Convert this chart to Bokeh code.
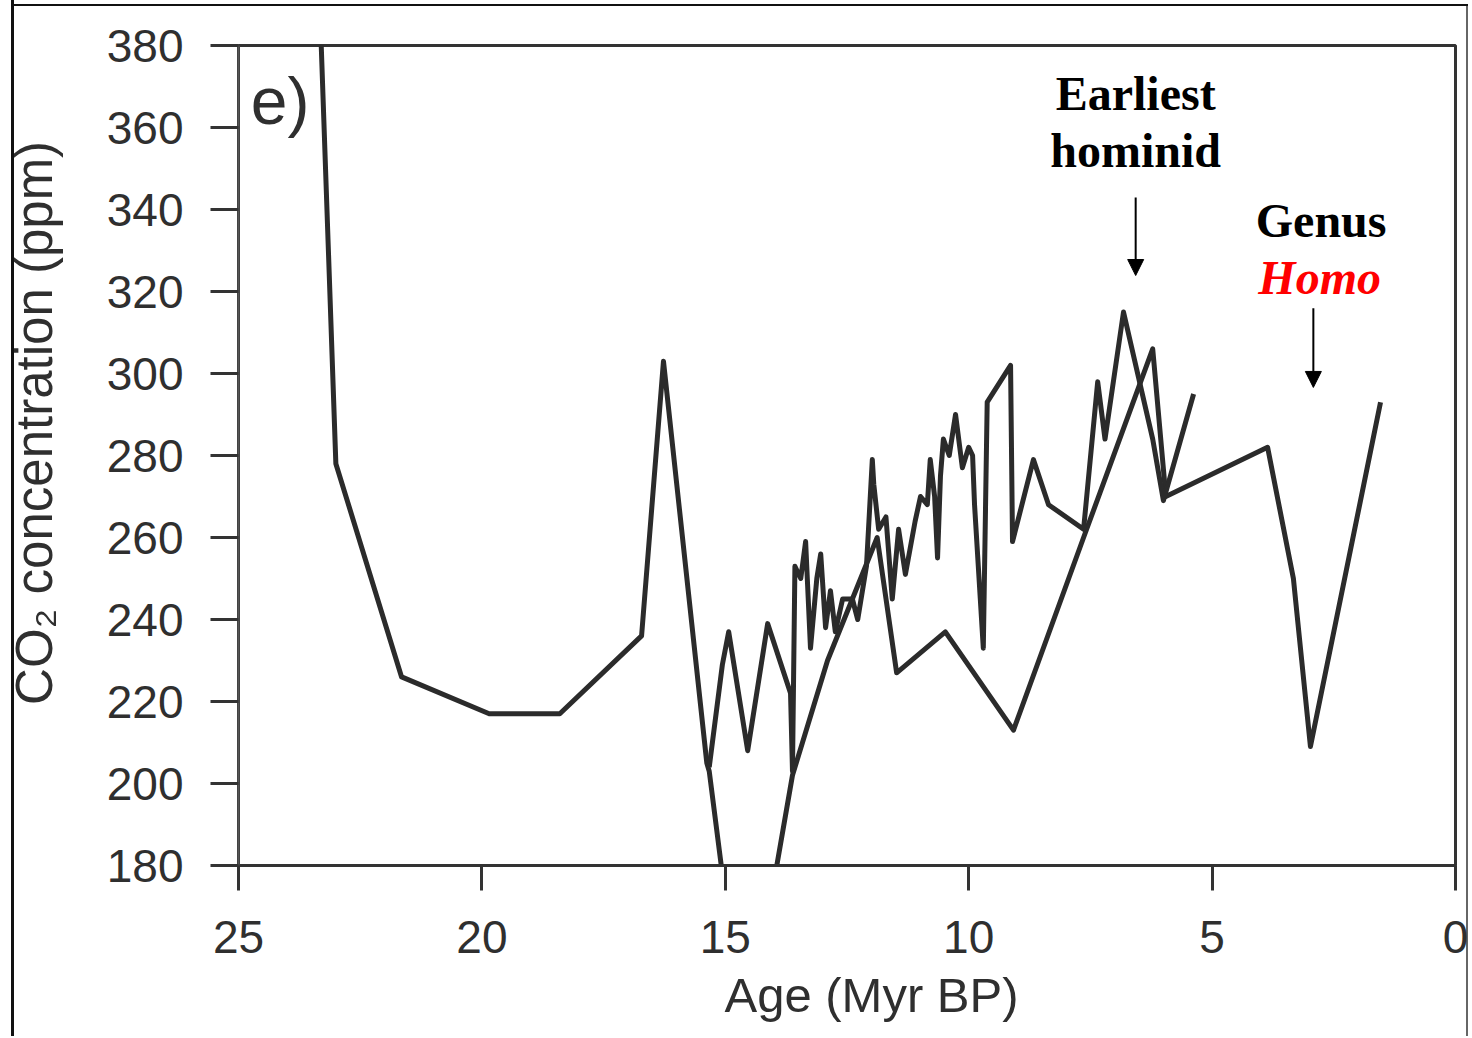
import numpy as np
from bokeh.plotting import figure
from bokeh.models import Range1d, Label, Arrow, NormalHead, FixedTicker
from bokeh.embed import file_html
from bokeh.resources import INLINE

# ---- data (Age in Myr BP, CO2 in ppm) ----
age_long = [23.33, 23.0, 21.65, 19.85, 18.4, 16.72, 16.27, 15.38, 15.33, 14.6, 13.62,
            12.9, 11.88, 11.48, 10.48, 9.08, 7.64, 6.22, 5.95, 3.86, 3.33, 2.98, 1.54]
co2_long = [390, 278, 226, 217, 217, 236, 303, 205, 203, 135, 202,
            230, 260, 227, 237, 213, 260, 306, 270, 282, 250, 209, 293]

age_hr = [15.33, 15.06, 14.93, 14.54, 14.13, 13.66, 13.62, 13.57, 13.45, 13.35, 13.25,
          13.12, 13.04, 12.94, 12.84, 12.74, 12.59, 12.39, 12.28, 12.1, 11.98, 11.95,
          11.85, 11.7, 11.57, 11.44, 11.3, 11.1, 10.99, 10.85, 10.79, 10.7, 10.64,
          10.58, 10.52, 10.4, 10.27, 10.13, 10.0, 9.92, 9.88, 9.7, 9.62, 9.14, 9.1,
          8.67, 8.36, 7.64, 7.35, 7.2, 6.82, 6.22, 6.0, 5.38]
co2_hr = [204, 229, 237, 208, 239, 222, 203, 253, 250, 259, 233,
          250, 256, 238, 247, 237, 245, 245, 240, 253, 279, 273,
          262, 265, 245, 262, 251, 264, 270, 268, 279, 270, 255,
          275, 284, 280, 290, 277, 282, 280, 268, 233, 293, 302, 259,
          279, 268, 262, 298, 284, 315, 284, 269, 295]

x_ticks = [25, 20, 15, 10, 5, 0]
y_ticks = [180, 200, 220, 240, 260, 280, 300, 320, 340, 360, 380]

x_title = "Age (Myr BP)"
y_title = "CO\u2082 concentration (ppm)"
panel_tag = "e)"
ann1_lines = ["Earliest", "hominid"]
ann2_lines = ["Genus", "Homo"]
ann1_age, ann2_age = 6.57, 2.92

INK = "#2b2b2b"
TXT = "#2f2f2f"
SANS = "Liberation Sans"
SERIF = "Liberation Serif"

p = figure(width=1468, height=1036, output_backend="svg", toolbar_location=None,
           x_range=Range1d(25, 0), y_range=Range1d(180, 380),
           min_border_left=238, min_border_right=13, min_border_top=45,
           min_border_bottom=171, background_fill_color="white",
           border_fill_color=None)
# scanned page border (left, top, right)
p.styles = {"box-shadow": "inset 11px 0 0 0 #fff, inset 14px 0 0 0 #111, "
                          "inset 0 4px 0 0 #fff, inset 0 6px 0 0 #111, "
                          "inset -2px 0 0 0 #666"}

p.xgrid.visible = False
p.ygrid.visible = False
p.outline_line_color = "#333333"
p.outline_line_width = 3

for ax in (p.xaxis[0], p.yaxis[0]):
    ax.minor_tick_line_color = None
    ax.major_tick_in = 0
    ax.major_tick_line_width = 3
    ax.major_tick_line_color = "#333333"
    ax.major_label_text_font = SANS
    ax.major_label_text_font_size = "46px"
    ax.major_label_text_color = TXT
    ax.axis_label_text_font = SANS
    ax.axis_label_text_font_style = "normal"
    ax.axis_label_text_color = TXT

p.xaxis.ticker = FixedTicker(ticks=x_ticks)
p.yaxis.ticker = FixedTicker(ticks=y_ticks)
p.xaxis.major_tick_out = 25
p.yaxis.major_tick_out = 28
p.xaxis.major_label_standoff = 30
p.yaxis.major_label_standoff = 27
p.xaxis.axis_line_width = 3
p.xaxis.axis_line_color = "#333333"
p.yaxis.axis_line_width = 2
p.yaxis.axis_line_color = "#555555"

# axis titles (leading non-collapsing spaces shift the centred title like the original)
p.xaxis.axis_label = "\u2003" + x_title
p.xaxis.axis_label_text_font_size = "49px"
p.xaxis.axis_label_standoff = 12
p.yaxis.axis_label = "\u2003\u00a0" + y_title
p.yaxis.axis_label_text_font_size = "51px"
p.yaxis.axis_label_standoff = 41

# series
p.line(age_long, co2_long, line_color=INK, line_width=5, line_join="round")
p.line(age_hr, co2_hr, line_color=INK, line_width=5, line_join="round")

# panel tag
p.add_layout(Label(x=24.75, y=366.5, text=panel_tag, text_align="left",
                   text_baseline="alphabetic", text_font=SANS,
                   text_font_size="66px", text_color=TXT))

# annotations
p.add_layout(Label(x=ann1_age, y=368.4, text=ann1_lines[0], text_align="center",
                   text_baseline="alphabetic", text_font=SERIF, text_font_style="bold",
                   text_font_size="48px", text_color="black"))
p.add_layout(Label(x=ann1_age, y=354.5, text=ann1_lines[1], text_align="center",
                   text_baseline="alphabetic", text_font=SERIF, text_font_style="bold",
                   text_font_size="48px", text_color="black"))
p.add_layout(Label(x=2.76, y=337.4, text=ann2_lines[0], text_align="center",
                   text_baseline="alphabetic", text_font=SERIF, text_font_style="bold",
                   text_font_size="48px", text_color="black"))
p.add_layout(Label(x=2.79, y=323.3, text=ann2_lines[1], text_align="center",
                   text_baseline="alphabetic", text_font=SERIF,
                   text_font_style="bold italic",
                   text_font_size="48px", text_color="#ff0000"))

p.add_layout(Arrow(x_start=ann1_age, y_start=342.9, x_end=ann1_age, y_end=323.9,
                   line_width=2, line_color="black",
                   end=NormalHead(size=16, fill_color="black", line_color="black")))
p.add_layout(Arrow(x_start=ann2_age, y_start=315.9, x_end=ann2_age, y_end=296.6,
                   line_width=2, line_color="black",
                   end=NormalHead(size=16, fill_color="black", line_color="black")))

open("out.html", "w").write(file_html(p, INLINE))
